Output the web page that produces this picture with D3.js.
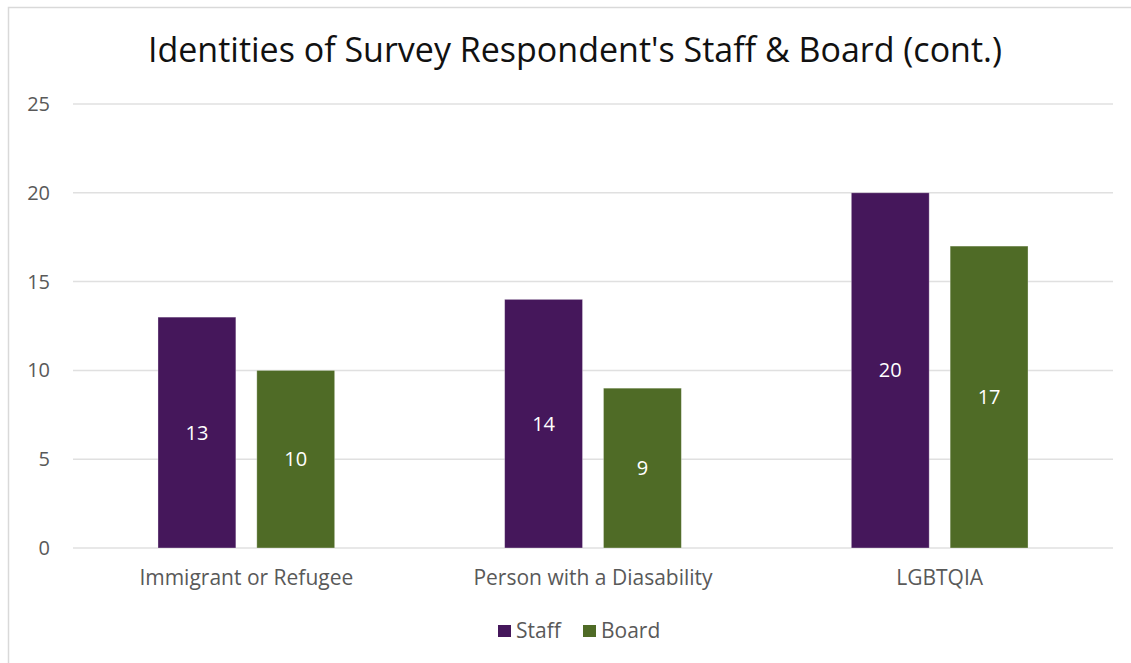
<!DOCTYPE html>
<html>
<head>
<meta charset="utf-8">
<script src="https://cdn.jsdelivr.net/npm/d3@7"></script>
<style>
  body { margin: 0; background: #fff; }
  svg { display: block; font-family: "Open Sans", "Liberation Sans", sans-serif; }
</style>
</head>
<body>
<div id="chart"></div>
<script>
const categories = ["Immigrant or Refugee", "Person with a Diasability", "LGBTQIA"];
const seriesNames = ["Staff", "Board"];
const staffValues = [13, 14, 20];
const boardValues = [10, 9, 17];
const yTicks = [0, 5, 10, 15, 20, 25];
const colors = { Staff: "#45175b", Board: "#4f6b26" };

const width = 1131, height = 663;
const margin = { top: 104, right: 18, bottom: 115, left: 73 };

const svg = d3.select("#chart").append("svg")
    .attr("width", width)
    .attr("height", height);

// chart frame
svg.append("rect")
    .attr("x", 8.5).attr("y", 7.5)
    .attr("width", width + 10).attr("height", height + 10)
    .attr("fill", "none")
    .attr("stroke", "#d9d9d9")
    .attr("stroke-width", 1.5);

svg.append("text")
    .attr("x", 575).attr("y", 62)
    .attr("text-anchor", "middle")
    .attr("font-size", 34)
    .attr("fill", "#111")
    .text("Identities of Survey Respondent's Staff & Board (cont.)");

const x0 = d3.scaleBand().domain(categories).range([margin.left, width - margin.right]);
const x1 = d3.scaleBand().domain(seriesNames).range([0, x0.bandwidth()]).paddingInner(0.212).paddingOuter(0.86);
const y = d3.scaleLinear().domain([0, 25]).range([height - margin.bottom, margin.top]);

// gridlines
svg.append("g")
    .selectAll("line")
    .data(yTicks)
    .join("line")
    .attr("x1", margin.left).attr("x2", width - margin.right)
    .attr("y1", d => y(d)).attr("y2", d => y(d))
    .attr("stroke", "#e0e0e0")
    .attr("stroke-width", 1.5);

svg.append("g")
    .selectAll("text")
    .data(yTicks)
    .join("text")
    .attr("x", 50).attr("y", d => y(d))
    .attr("dy", "0.35em")
    .attr("text-anchor", "end")
    .attr("font-size", 20)
    .attr("fill", "#595959")
    .text(d => d);

const rows = categories.map((c, i) => ({ cat: c, Staff: staffValues[i], Board: boardValues[i] }));

const groups = svg.append("g")
    .selectAll("g")
    .data(rows)
    .join("g")
    .attr("transform", d => `translate(${x0(d.cat)},0)`);

groups.selectAll("rect")
    .data(d => seriesNames.map(s => ({ key: s, value: d[s] })))
    .join("rect")
    .attr("x", d => x1(d.key))
    .attr("y", d => y(d.value))
    .attr("width", x1.bandwidth())
    .attr("height", d => y(0) - y(d.value))
    .attr("fill", d => colors[d.key])
    .attr("stroke", "#fff")
    .attr("stroke-opacity", 0.4)
    .attr("stroke-width", 0.8);

groups.selectAll("text")
    .data(d => seriesNames.map(s => ({ key: s, value: d[s] })))
    .join("text")
    .attr("x", d => x1(d.key) + x1.bandwidth() / 2)
    .attr("y", d => (y(d.value) + y(0)) / 2)
    .attr("dy", "0.35em")
    .attr("text-anchor", "middle")
    .attr("font-size", 20)
    .attr("fill", "#fff")
    .text(d => d.value);

// category labels
svg.append("g")
    .selectAll("text")
    .data(categories)
    .join("text")
    .attr("x", d => x0(d) + x0.bandwidth() / 2)
    .attr("y", 578)
    .attr("dy", "0.35em")
    .attr("text-anchor", "middle")
    .attr("font-size", 21)
    .attr("fill", "#595959")
    .text(d => d);

// legend
const legendX = [498, 583];
const legend = svg.append("g")
    .selectAll("g")
    .data(seriesNames)
    .join("g")
    .attr("transform", (d, i) => `translate(${legendX[i]},631)`);

legend.append("rect")
    .attr("x", 0).attr("y", -6)
    .attr("width", 13).attr("height", 12)
    .attr("fill", d => colors[d]);

legend.append("text")
    .attr("x", 18).attr("y", 0)
    .attr("dy", "0.35em")
    .attr("font-size", 21)
    .attr("fill", "#595959")
    .text(d => d);
</script>
</body>
</html>
